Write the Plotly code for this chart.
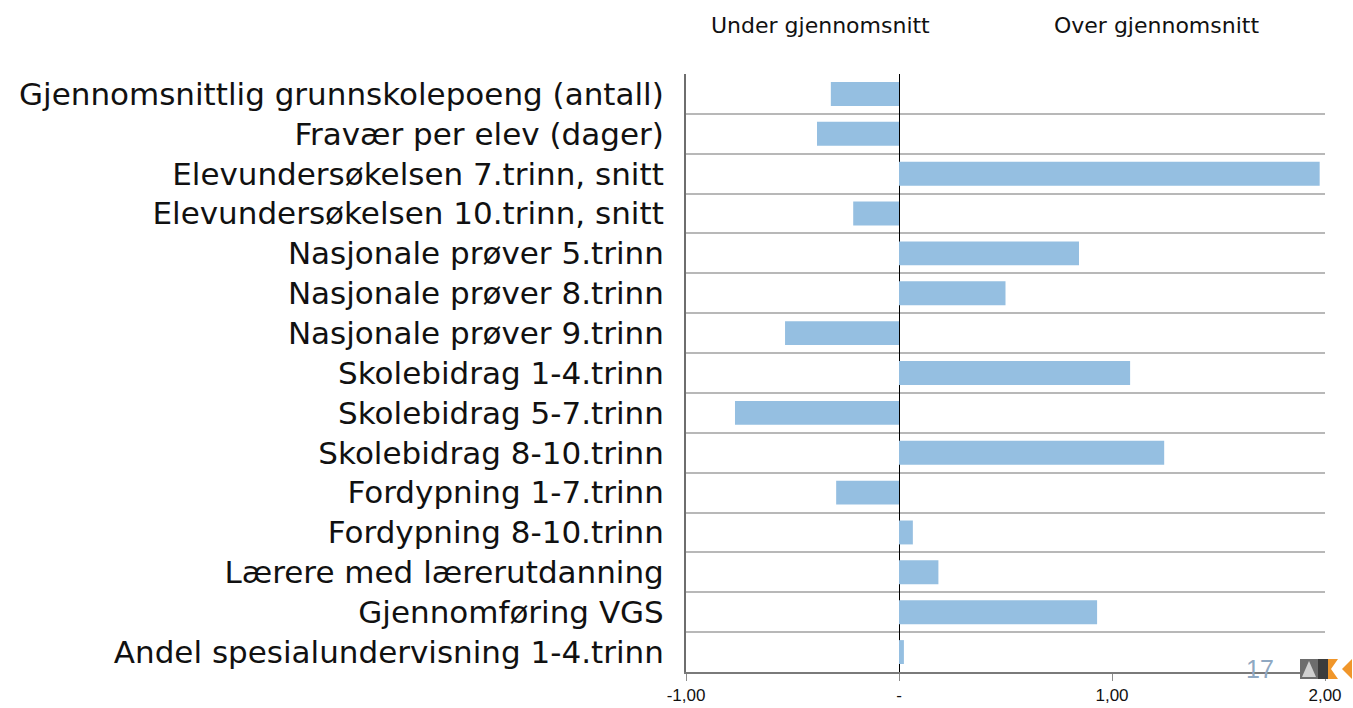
import plotly.graph_objects as go

categories = [
    "Gjennomsnittlig grunnskolepoeng (antall)",
    "Fravær per elev (dager)",
    "Elevundersøkelsen 7.trinn, snitt",
    "Elevundersøkelsen 10.trinn, snitt",
    "Nasjonale prøver 5.trinn",
    "Nasjonale prøver 8.trinn",
    "Nasjonale prøver 9.trinn",
    "Skolebidrag 1-4.trinn",
    "Skolebidrag 5-7.trinn",
    "Skolebidrag 8-10.trinn",
    "Fordypning 1-7.trinn",
    "Fordypning 8-10.trinn",
    "Lærere med lærerutdanning",
    "Gjennomføring VGS",
    "Andel spesialundervisning 1-4.trinn",
]
values = [-0.32, -0.385, 1.975, -0.215, 0.845, 0.50, -0.535, 1.085, -0.77, 1.245,
          -0.295, 0.065, 0.185, 0.93, 0.023]
x_tickvals = [-1, 0, 1, 2]
x_ticktext = ["-1,00", "-", "1,00", "2,00"]

pos = list(range(len(categories)))

fig = go.Figure()
fig.add_trace(go.Bar(
    x=values, y=pos, orientation="h",
    marker=dict(color="#95bfe1", line=dict(width=0)),
    width=0.6, showlegend=False, hoverinfo="x",
))

FONT = "Liberation Sans, Arial, sans-serif"
WIDE = "DejaVu Sans, sans-serif"
fig.update_layout(
    width=1353, height=708,
    margin=dict(l=686, r=28, t=74, b=36, autoexpand=False),
    paper_bgcolor="white", plot_bgcolor="white",
    font=dict(family=FONT, color="#111111"),
    bargap=0.4,
    xaxis=dict(
        range=[-1, 2], tickvals=x_tickvals, ticktext=x_ticktext,
        showgrid=False, zeroline=True, zerolinecolor="#000000", zerolinewidth=1.2,
        showline=True, linecolor="#7a7a7a", linewidth=2,
        ticks="outside", ticklen=7, tickcolor="#8c8c8c", tickwidth=1.2,
        tickfont=dict(size=17, color="#111111"), fixedrange=True,
        automargin=False,
    ),
    yaxis=dict(
        range=[len(categories) - 0.5, -0.5],
        tickvals=pos, ticktext=categories,
        tickfont=dict(size=31, color="#111111", family=WIDE),
        showgrid=False, zeroline=False, ticks="",
        showline=True, linecolor="#6e6e6e", linewidth=2,
        ticklabelstandoff=14,
        minor=dict(tickvals=[i - 0.5 for i in range(len(categories) + 1)],
                   showgrid=True, gridcolor="#b8b8b8", gridwidth=2, ticks=""),
        fixedrange=True, automargin=False,
    ),
)

# Header texts
fig.add_annotation(x=-0.37, y=1.0, xref="x", yref="paper", yshift=49, yanchor="middle",
                   text="Under gjennomsnitt", showarrow=False,
                   font=dict(size=22, color="#111111", family=WIDE))
fig.add_annotation(x=1.21, y=1.0, xref="x", yref="paper", yshift=49, yanchor="middle",
                   text="Over gjennomsnitt", showarrow=False,
                   font=dict(size=22, color="#111111", family=WIDE))

# Slide number and logo
fig.add_annotation(x=0.899, y=0.005, xref="paper", yref="paper", xanchor="center", yanchor="middle",
                   text="17", showarrow=False, font=dict(size=25, color="#8fa8c2", family=FONT))

def px(xp):
    return (xp - 686) / 639.0

def py(yp):
    return (672 - yp) / 598.0

fig.add_shape(type="rect", xref="paper", yref="paper",
              x0=px(1300), x1=px(1318), y0=py(679), y1=py(659),
              fillcolor="#6d6d6d", line=dict(width=0), layer="above")
fig.add_shape(type="path", xref="paper", yref="paper",
              path=f"M {px(1302)} {py(677)} L {px(1309)} {py(661)} L {px(1316)} {py(677)} Z",
              fillcolor="#d0d0d0", line=dict(width=0), layer="above")
fig.add_shape(type="rect", xref="paper", yref="paper",
              x0=px(1318), x1=px(1328), y0=py(679), y1=py(659),
              fillcolor="#3c3c3c", line=dict(width=0), layer="above")
fig.add_shape(type="path", xref="paper", yref="paper",
              path=f"M {px(1328)} {py(659)} L {px(1338)} {py(659)} L {px(1331)} {py(669)} L {px(1338)} {py(679)} L {px(1328)} {py(679)} Z",
              fillcolor="#f0962a", line=dict(width=0), layer="above")
fig.add_shape(type="path", xref="paper", yref="paper",
              path=f"M {px(1352)} {py(659)} L {px(1342)} {py(669)} L {px(1352)} {py(679)} Z",
              fillcolor="#f0962a", line=dict(width=0), layer="above")

fig.write_html(
    "out.html",
    config={"displayModeBar": False},
    post_script="document.body.style.margin='0px';document.body.style.overflow='hidden';",
)
